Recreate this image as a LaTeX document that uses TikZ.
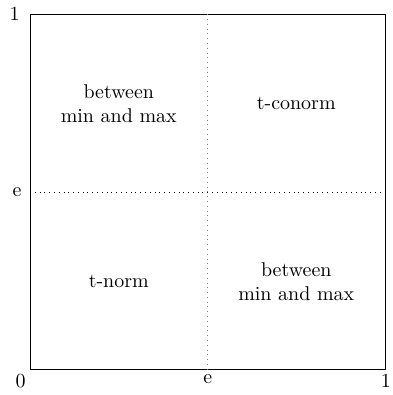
\documentclass[tikz,border=0pt]{standalone}
\usetikzlibrary{positioning}

\begin{document}
\begin{tikzpicture}[
        x=6.25cm, y=6.25cm,
        frame/.style={draw, thin},
        quad/.style={align=center, font=\normalsize},
        tick/.style={inner sep=2pt},
        vline/.style={dotted, gray},
        hline/.style={dotted, black}
    ]

        % margenes de la figura
        \useasboundingbox (-0.0845,-0.0704) rectangle (1.0225,1.0423);

        % --- cuadrado unidad ---
        \node[frame, minimum width=6.25cm, minimum height=6.25cm, inner sep=0pt, anchor=south west] (sq) at (0,0) {};

        % Lineas punteadas en e
        \draw[vline] (sq.north) -- (sq.south);
        \draw[hline] (sq.west) -- (sq.east);

        % --- etiquetas de los ejes ---
        \node[tick, anchor=north east] (zero) at (sq.south west) {0};
        \node[tick, below=0pt of sq.south] (ebot) {e};
        \node[tick, below=0pt of sq.south east] (onex) {1};
        \node[tick, left=3pt of sq.north west] (oney) {1};
        \node[tick, left=2pt of sq.west] (eleft) {e};

        % --- cuadrantes ---
        \node[quad] (nw) at (0.25,0.75) {between\\min and max};
        \node[quad] (ne) at (0.75,0.75) {t-conorm};
        \node[quad] (sw) at (0.25,0.25) {t-norm};
        \node[quad] (se) at (0.75,0.25) {between\\min and max};
    \end{tikzpicture}
\end{document}
